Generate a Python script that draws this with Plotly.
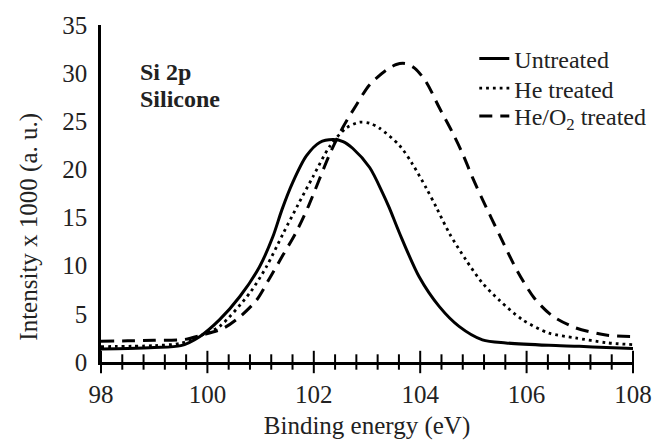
import plotly.graph_objects as go

# Untreated
x_untreated = [98.0, 98.5, 99.0, 99.5, 99.86, 100.23, 100.61, 100.98, 101.23, 101.4, 101.6, 101.86,
               102.11, 102.36, 102.55, 102.73, 103.05, 103.29, 103.42, 103.61, 103.98, 104.36, 104.73,
               105.17, 105.61, 106.42, 106.99, 107.5, 108.0]
y_untreated = [1.35, 1.4, 1.5, 1.7, 2.66, 4.4, 6.8, 9.9, 13.0, 15.8, 18.6, 21.4,
               22.8, 23.1, 22.9, 22.2, 20.2, 17.6, 16.0, 13.4, 8.85, 5.75, 3.7,
               2.3, 1.98, 1.73, 1.63, 1.5, 1.4]

# He treated
x_he = [98.0, 99.0, 99.5, 99.9, 100.23, 100.8, 101.11, 101.42, 101.7, 101.98, 102.3, 102.61,
        102.86, 103.05, 103.23, 103.61, 103.85, 104.11, 104.3, 104.55, 104.86, 105.17, 105.49,
        105.92, 106.42, 106.92, 107.5, 108.0]
y_he = [1.6, 1.7, 1.95, 2.8, 3.7, 7.2, 9.9, 13.3, 16.3, 19.2, 22.4, 24.3,
        24.9, 24.8, 24.3, 22.5, 20.6, 18.1, 16.1, 13.35, 10.6, 8.2, 6.4,
        4.4, 3.0, 2.5, 2.0, 1.8]

# He/O2 treated
x_heo2 = [98.0, 98.5, 99.0, 99.58, 99.9, 100.3, 100.61, 100.92, 101.17, 101.42, 101.67, 101.9,
          102.3, 102.54, 102.8, 103.05, 103.36, 103.55, 103.72, 103.9, 104.11, 104.36, 104.6, 104.8,
          104.98, 105.17, 105.49, 105.83, 106.15, 106.48, 106.92, 107.49, 107.98]
y_heo2 = [2.15, 2.2, 2.25, 2.35, 2.8, 3.5, 4.7, 6.4, 8.7, 11.1, 13.5, 16.2,
          21.6, 24.3, 26.7, 28.8, 30.3, 30.9, 31.0, 30.5, 29.1, 26.4, 23.9, 21.6,
          19.2, 16.9, 13.2, 9.4, 6.6, 4.8, 3.55, 2.8, 2.65]

series_names = ["Untreated", "He treated", "He/O<sub>2</sub> treated"]

# axis ticks
x_major = [98, 100, 102, 104, 106, 108]
x_minor = [98.4, 98.8, 99.2, 99.6, 100.4, 100.8, 101.2, 101.6, 102.4, 102.8, 103.2, 103.6,
           104.4, 104.8, 105.2, 105.6, 106.4, 106.8, 107.2, 107.6]
y_major = [0, 5, 10, 15, 20, 25, 30, 35]

X_RANGE = [98, 108]
Y_RANGE = [0, 35]
ML, MR, MT, MB = 101, 30, 23, 86
W, H = 664, 448
PLOT_W = W - ML - MR
PLOT_H = H - MT - MB

FONT = "Liberation Serif"
TXT = "#222222"

fig = go.Figure()
fig.add_trace(go.Scatter(x=x_untreated, y=y_untreated, mode="lines", name=series_names[0], legend="legend",
                         line=dict(color="black", width=3, shape="spline", smoothing=0.8)))
fig.add_trace(go.Scatter(x=x_he, y=y_he, mode="lines", name=series_names[1], legend="legend2",
                         line=dict(color="black", width=2.8, dash="2.8px,4px", shape="spline", smoothing=0.8)))
fig.add_trace(go.Scatter(x=x_heo2, y=y_heo2, mode="lines", name=series_names[2], legend="legend3",
                         line=dict(color="black", width=3, dash="13px,8px", shape="spline", smoothing=0.8)))

# tick marks drawn as line markers (crossing the x axis, outside on the y axis)
tick_style = dict(mode="markers", showlegend=False, hoverinfo="skip", cliponaxis=False)
fig.add_trace(go.Scatter(x=x_major, y=[Y_RANGE[0]] * len(x_major), **tick_style,
                         marker=dict(symbol="line-ns", size=16, color="black", line=dict(color="black", width=2))))
fig.add_trace(go.Scatter(x=x_minor, y=[Y_RANGE[0]] * len(x_minor), **tick_style,
                         marker=dict(symbol="line-ns", size=11, color="black", line=dict(color="black", width=2))))
y_tick_len = 7
y_tick_x = X_RANGE[0] - (y_tick_len / 2) * (X_RANGE[1] - X_RANGE[0]) / PLOT_W
fig.add_trace(go.Scatter(x=[y_tick_x] * len(y_major), y=y_major, **tick_style,
                         marker=dict(symbol="line-ew", size=y_tick_len, color="black",
                                     line=dict(color="black", width=2))))

def leg(ypix):
    return dict(x=(475 - ML) / PLOT_W, y=(H - MB - ypix) / PLOT_H, xanchor="left", yanchor="middle",
                bgcolor="rgba(0,0,0,0)", font=dict(family=FONT, size=24, color=TXT))

fig.update_layout(
    width=W, height=H,
    margin=dict(l=ML, r=MR, t=MT, b=MB),
    paper_bgcolor="white", plot_bgcolor="white",
    font=dict(family=FONT, size=25, color=TXT),
    showlegend=True,
    legend=leg(57), legend2=leg(87), legend3=leg(115),
    xaxis=dict(range=X_RANGE, tickmode="array", tickvals=x_major,
               ticks="outside", ticklen=8, tickwidth=2, tickcolor="rgba(0,0,0,0)",
               showline=True, linecolor="black", linewidth=2.5, showgrid=False, zeroline=False,
               tickfont=dict(family=FONT, size=25, color=TXT),
               title=dict(text="Binding energy (eV)", font=dict(family=FONT, size=25, color=TXT), standoff=10)),
    yaxis=dict(range=Y_RANGE, tickmode="array", tickvals=y_major,
               ticks="outside", ticklen=6, tickwidth=2, tickcolor="rgba(0,0,0,0)",
               showline=True, linecolor="black", linewidth=2.5, showgrid=False, zeroline=False,
               tickfont=dict(family=FONT, size=25, color=TXT), ticksuffix="  "),
    annotations=[
        dict(text="Intensity x 1000 (a. u.)", xref="paper", yref="paper", x=(28 - ML) / PLOT_W, y=0.402,
             xanchor="center", yanchor="middle", textangle=-90, showarrow=False,
             font=dict(family=FONT, size=25, color=TXT)),
        dict(text="<b>Si 2p</b>", xref="paper", yref="paper", x=(138 - ML) / PLOT_W, y=(H - MB - 70) / PLOT_H,
             xanchor="left", yanchor="middle", showarrow=False, font=dict(family=FONT, size=24, color=TXT)),
        dict(text="<b>Silicone</b>", xref="paper", yref="paper", x=(138 - ML) / PLOT_W, y=(H - MB - 97) / PLOT_H,
             xanchor="left", yanchor="middle", showarrow=False, font=dict(family=FONT, size=24, color=TXT)),
    ],
)

fig.write_html("out.html")
